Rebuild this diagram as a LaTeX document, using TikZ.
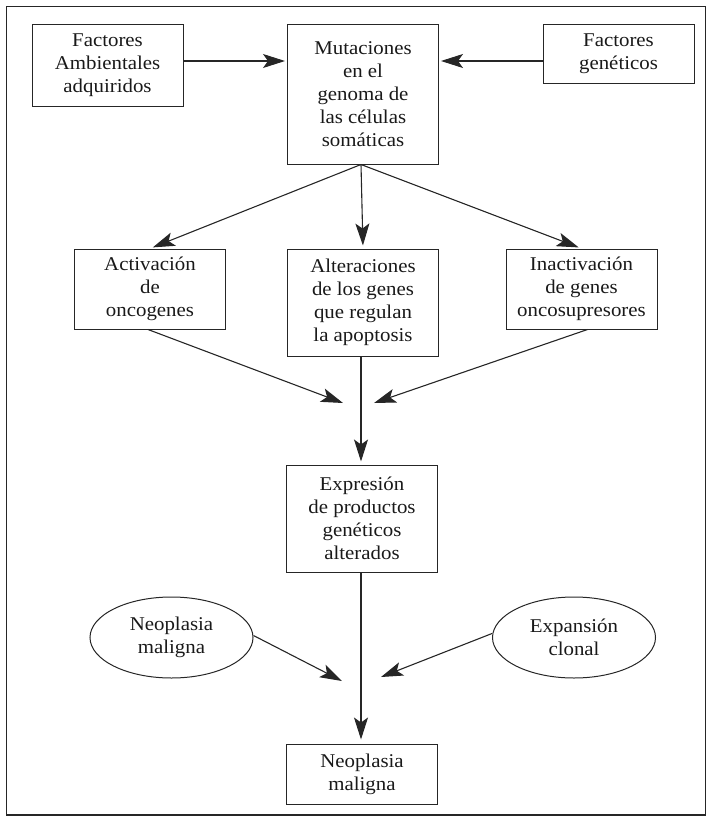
\documentclass[tikz,border=0pt]{standalone}
\usepackage{fontspec}
\setmainfont{Liberation Serif}[FakeStretch=1.07]
\usetikzlibrary{arrows.meta,shapes.geometric}

\begin{document}
\begin{tikzpicture}[
        x=1pt, y=-1pt,
        caja/.style={draw=black!85, line width=1pt, align=center, inner sep=0pt,
            minimum width=151pt, font=\fontsize{19.5}{23}\selectfont, text=black!90},
        elipse/.style={caja, ellipse, minimum width=163pt, minimum height=81pt},
        flecha/.style={draw=black!85, line width=1.1pt,
            -{Stealth[length=22pt,width=14pt,inset=5pt]}}]

    \useasboundingbox (0,0) rectangle (706,816);

    % --- Marco
    \draw[black!85, line width=1.2pt] (6.5,6.5) rectangle (705.5,815);

    % --- Fila superior
    \node[caja, minimum height=81pt]  (amb) at (107.5,65.5) {Factores\\Ambientales\\adquiridos};
    \node[caja, minimum height=139pt] (mut) at (363,94.5)   {Mutaciones\\en el\\genoma de\\las células\\somáticas};
    \node[caja, minimum height=58pt]  (gen) at (618.5,54)   {Factores\\genéticos};
    \coordinate (hin) at (0,61);

    % --- Segunda fila
    \node[caja, minimum height=80pt]  (act) at (150,289)   {Activación\\de\\oncogenes};
    \node[caja, minimum height=107pt] (alt) at (363,302.5) {Alteraciones\\de los genes\\que regulan\\la apoptosis};
    \node[caja, minimum height=80pt]  (ina) at (581.5,289) {Inactivación\\de genes\\oncosupresores};
    \coordinate (j1) at (361,403);

    % --- Expresión y resultado
    \node[caja, minimum height=107pt] (expr) at (362,518.5) {Expresión\\de productos\\genéticos\\alterados};
    \node[elipse] (neo) at (171.5,637.5) {Neoplasia\\maligna};
    \node[elipse] (exp) at (574,637.5)   {Expansión\\clonal};
    \coordinate (j2) at (361,679);
    \node[caja, minimum height=60pt]  (fin) at (362,774)   {Neoplasia\\maligna};

    % --- Flechas
    \draw[flecha, shorten >=2pt] (amb.east |- hin) -- (mut.west |- hin);
    \draw[flecha, shorten >=2pt] (gen.west |- hin) -- (mut.east |- hin);
    \foreach \n in {act,alt,ina}
        \draw[flecha, shorten >=3pt] ([xshift=-2pt]mut.south) -- (\n.north);
    \draw[flecha] ([xshift=-2pt]act.south) -- ([xshift=-18pt]j1);
    \draw[flecha] ([xshift=6pt]ina.south) -- ([xshift=13pt]j1);
    \draw[flecha, shorten >=3pt] ([xshift=-2pt]alt.south) -- (expr.north -| j1);
    \draw[flecha] ([yshift=2pt]neo.east) -- ([xshift=-19pt,yshift=-2pt]j2);
    \draw[flecha] ([yshift=4pt]exp.west) -- ([xshift=20pt,yshift=2pt]j2);
    \draw[flecha, shorten >=4pt] ([xshift=-1pt]expr.south) -- (fin.north -| j2);

\end{tikzpicture}
\end{document}
